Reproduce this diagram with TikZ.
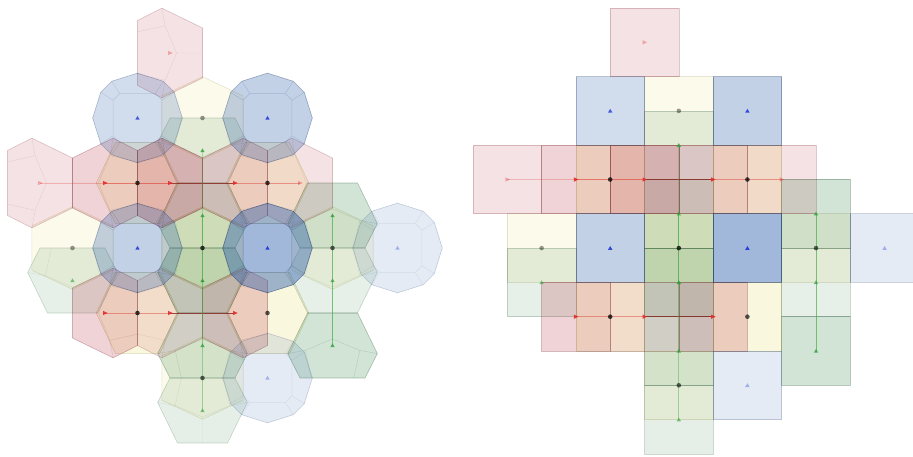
\documentclass[tikz,border=0pt]{standalone}
\usetikzlibrary{calc}

\definecolor{redq}{RGB}{178,34,52}
\definecolor{grnq}{RGB}{50,130,70}
\definecolor{bluq}{RGB}{40,90,170}
\definecolor{ylwq}{RGB}{225,205,55}
\definecolor{redmark}{RGB}{225,45,45}
\definecolor{grnmark}{RGB}{45,160,55}
\definecolor{blumark}{RGB}{35,60,215}
\definecolor{redtrace}{RGB}{225,70,60}
\definecolor{darktrace}{RGB}{140,45,35}
\definecolor{grntrace}{RGB}{70,175,70}

\tikzset{
  tileedge/.style={line width=0.6pt, line join=round},
  inneredge/.style={line width=0.45pt},
  trace/.style={line width=0.9pt}
}

% left panel: horizontal cairo hexagon (red), mirror with xscale=-1
\newcommand{\hexh}[4][]{%
  \pgfmathsetmacro\edgeop{0.1+#3}%
  \pgfmathsetmacro\innerop{0.04+0.5*#3}%
  \begin{scope}[shift={#4},#1]
    \draw[tileedge,fill=#2,fill opacity=#3,draw=#2!60!black,draw opacity=\edgeop]
      (-1,-1) -- (-0.25,-1.38) -- (1,-0.77) -- (1,0.77) -- (-0.25,1.38) -- (-1,1) -- cycle;
    \draw[inneredge,draw=#2!60!black,draw opacity=\innerop]
      (-1,-0.65) -- (-0.15,-0.84) -- (-0.25,-1.38)
      (-1,0.65) -- (-0.15,0.84) -- (-0.25,1.38)
      (-0.15,-0.84) -- (0.2,0) -- (-0.15,0.84)
      (0.2,0) -- (1,0);
  \end{scope}}

% left panel: vertical cairo hexagon (green), mirror with yscale=-1
\newcommand{\hexv}[4][]{%
  \pgfmathsetmacro\edgeop{0.1+#3}%
  \pgfmathsetmacro\innerop{0.04+0.5*#3}%
  \begin{scope}[shift={#4},#1]
    \draw[tileedge,fill=#2,fill opacity=#3,draw=#2!60!black,draw opacity=\edgeop]
      (-1,-1) -- (-1.38,-0.25) -- (-0.77,1) -- (0.77,1) -- (1.38,-0.25) -- (1,-1) -- cycle;
    \draw[inneredge,draw=#2!60!black,draw opacity=\innerop]
      (-0.65,-1) -- (-0.84,-0.15) -- (-1.38,-0.25)
      (0.65,-1) -- (0.84,-0.15) -- (1.38,-0.25)
      (-0.84,-0.15) -- (0,0.2) -- (0.84,-0.15)
      (0,0.2) -- (0,1);
  \end{scope}}

% left panel: yellow hexagon
\newcommand{\hexy}[4][]{%
  \pgfmathsetmacro\edgeop{0.1+#3}%
  \begin{scope}[shift={#4},#1]
    \draw[tileedge,fill=#2,fill opacity=#3,draw=#2!60!black,draw opacity=\edgeop]
      (0,-1.27) -- (1.25,-0.68) -- (1.25,0.68) -- (0,1.27) -- (-1.25,0.68) -- (-1.25,-0.68) -- cycle;
  \end{scope}}

% left panel: blue twelve-gon
\newcommand{\dodeca}[3]{%
  \pgfmathsetmacro\edgeop{0.1+#2}%
  \pgfmathsetmacro\innerop{0.04+0.5*#2}%
  \begin{scope}[shift={#3}]
    \draw[tileedge,fill=#1,fill opacity=#2,draw=#1!60!black,draw opacity=\edgeop]
      (0:1.38) -- (35:1.38) -- (55:1.38) -- (90:1.38) -- (125:1.38) -- (145:1.38)
      -- (180:1.38) -- (215:1.38) -- (235:1.38) -- (270:1.38) -- (305:1.38) -- (325:1.38) -- cycle;
    \draw[inneredge,draw=#1!60!black,draw opacity=\innerop]
      (36:0.93) -- (54:0.93) -- (126:0.93) -- (144:0.93) -- (216:0.93) -- (234:0.93)
      -- (306:0.93) -- (324:0.93) -- cycle
      (36:0.93) -- (35:1.38) (54:0.93) -- (55:1.38)
      (126:0.93) -- (125:1.38) (144:0.93) -- (145:1.38)
      (216:0.93) -- (215:1.38) (234:0.93) -- (235:1.38)
      (306:0.93) -- (305:1.38) (324:0.93) -- (325:1.38);
  \end{scope}}

% right panel: square tile
\newcommand{\sqr}[3]{%
  \pgfmathsetmacro\edgeop{0.1+#2}%
  \draw[tileedge,fill=#1,fill opacity=#2,draw=#1!60!black,draw opacity=\edgeop,shift={#3}]
    (-1,-1) rectangle (1,1);}

% markers
\newcommand{\rtri}[2]{\fill[redmark,opacity=#2] (#1) ++(-2pt,-2.2pt) -- ++(4.6pt,2.2pt) -- ++(-4.6pt,2.2pt) -- cycle;}
\newcommand{\utri}[3]{\fill[#2,opacity=#3] (#1) ++(-2.2pt,-1.7pt) -- ++(4.4pt,0pt) -- ++(-2.2pt,3.8pt) -- cycle;}

% traces and markers, shared by both panels
\newcommand{\qubits}{%
  \foreach \i/\j in {5/1,1/5,3/5,5/5,7/5,9/5,3/9,5/9,7/9} {\coordinate (r\i-\j) at (\i,\j);}
  \foreach \i/\j in {6/4,6/6,6/8,6/10,6/12,10/6,10/8,10/10,2/8} {\coordinate (g\i-\j) at (\i,\j);}
  \foreach \i/\j in {4/3,8/3,4/7,8/7,12/7,8/11} {\coordinate (b\i-\j) at (\i,\j);}
  \foreach \i/\j in {6/3,4/5,8/5,2/7,6/7,10/7,4/9,8/9,6/11} {\coordinate (y\i-\j) at (\i,\j);}
  \draw[trace,redtrace,opacity=.3] (r1-5) -- (r3-5);
  \draw[trace,redtrace,opacity=.65] (r3-5) -- (r5-5);
  \draw[trace,darktrace,opacity=.85] (r5-5) -- (r7-5);
  \draw[trace,redtrace,opacity=.5] (r7-5) -- (r9-5);
  \draw[trace,redtrace,opacity=.5] (r3-9) -- (r5-9);
  \draw[trace,darktrace,opacity=.85] (r5-9) -- (r7-9);
  \draw[trace,grntrace,opacity=.35] (g6-4) -- (g6-6);
  \draw[trace,grntrace,opacity=.8] (g6-6) -- (g6-8);
  \draw[trace,grntrace,opacity=.6] (g6-8) -- (g6-10);
  \draw[trace,grntrace,opacity=.45] (g6-10) -- (g6-12);
  \draw[trace,grntrace,opacity=.7] (g10-6) -- (g10-8);
  \draw[trace,grntrace,opacity=.7] (g10-8) -- (g10-10);
  \foreach \n/\o in {r5-1/.35,r1-5/.35,r9-5/.4,r3-5/.9,r5-5/.9,r7-5/.9,r3-9/.9,r5-9/.9,r7-9/.9} {\rtri{\n}{\o}}
  \foreach \n/\o in {g6-4/.8,g6-6/.8,g6-8/.9,g6-10/.8,g6-12/.6,g10-6/.8,g10-8/.7,g10-10/.8,g2-8/.6} {\utri{\n}{grnmark}{\o}}
  \foreach \n/\o in {b4-3/.8,b8-3/.9,b4-7/.9,b8-7/.95,b12-7/.35,b8-11/.35} {\utri{\n}{blumark}{\o}}
  \foreach \n/\o in {y6-3/.4,y4-5/.75,y8-5/.75,y2-7/.4,y6-7/.75,y10-7/.6,y4-9/.75,y8-9/.65,y6-11/.6} {\fill[black,opacity=\o] (\n) circle (2.3pt);}
}

\begin{document}
\begin{tikzpicture}[x=1pt,y=-1pt]
\useasboundingbox (0,0) rectangle (913,457);

% hexagon / twelve-gon layout
\begin{scope}[shift={(7.5,20.5)},x=32.5pt,y=-32.5pt,name prefix=L-]
  \foreach \i/\j/\a in {6/3/.1,2/7/.1,6/7/.2,10/7/.1,6/11/.1} {\hexy{ylwq}{\a}{(\i,\j)}}
  \foreach \i/\j/\a in {4/5/.16,8/5/.16,4/9/.16,8/9/.16} {\hexy[rotate=90]{ylwq}{\a}{(\i,\j)}}
  \foreach \i/\j/\a in {6/4/.125,6/8/.29,6/12/.125,10/8/.12,2/8/.12} {\hexv{grnq}{\a}{(\i,\j)}}
  \foreach \i/\j/\a in {6/6/.21,6/10/.2,10/6/.22,10/10/.22} {\hexv[yscale=-1]{grnq}{\a}{(\i,\j)}}
  \foreach \i/\j/\a in {5/1/.13,1/5/.13,5/5/.3,9/5/.13,5/9/.12} {\hexh{redq}{\a}{(\i,\j)}}
  \foreach \i/\j/\a in {3/5/.2,7/5/.2,3/9/.2,7/9/.2} {\hexh[xscale=-1]{redq}{\a}{(\i,\j)}}
  \foreach \i/\j/\a in {4/3/.21,8/3/.28,4/7/.28,8/7/.43,12/7/.12,8/11/.12} {\dodeca{bluq}{\a}{(\i,\j)}}
  \qubits
\end{scope}

% square layout
\begin{scope}[shift={(473,8)},x=34.3pt,y=-34.3pt,name prefix=R-]
  \foreach \i/\j/\a in {6/3/.1,4/5/.16,8/5/.16,2/7/.1,6/7/.2,10/7/.1,4/9/.16,8/9/.16,6/11/.1} {\sqr{ylwq}{\a}{(\i,\j)}}
  \foreach \i/\j/\a in {6/4/.125,6/6/.21,6/8/.29,6/10/.2,6/12/.125,10/6/.22,10/8/.12,10/10/.22,2/8/.12} {\sqr{grnq}{\a}{(\i,\j)}}
  \foreach \i/\j/\a in {5/1/.13,1/5/.13,3/5/.2,5/5/.3,7/5/.2,9/5/.13,3/9/.2,5/9/.12,7/9/.2} {\sqr{redq}{\a}{(\i,\j)}}
  \foreach \i/\j/\a in {4/3/.21,8/3/.28,4/7/.28,8/7/.43,12/7/.12,8/11/.12} {\sqr{bluq}{\a}{(\i,\j)}}
  \qubits
\end{scope}
\end{tikzpicture}
\end{document}
